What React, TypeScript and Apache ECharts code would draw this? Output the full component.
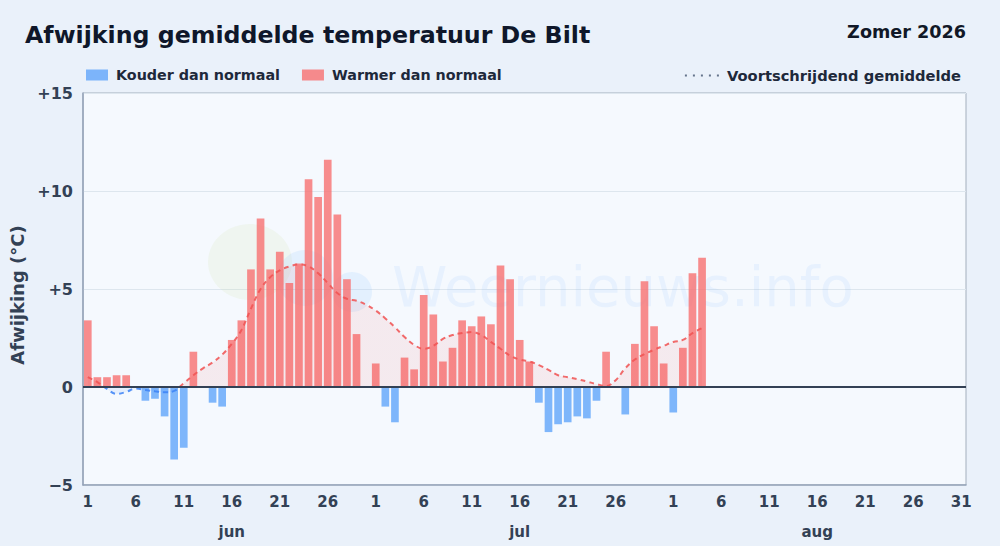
import React, { useEffect, useRef } from "react";
import * as echarts from "echarts";

// ---- data ----
const MONTH_NAMES = ["jun", "jul", "aug"];
const MONTH_NUMS = ["06", "07", "08"];
const MONTH_LENGTHS = [30, 31, 31];
const YEAR = "2026";
const TICK_DAYS = [1, 6, 11, 16, 21, 26];
const MONTH_LABEL_DAY = 16;
const Y_MIN = -5;
const Y_MAX = 15;
const Y_STEP = 5;

// daily deviation (°C), from 1 jun
const DAILY = [
  3.4, 0.5, 0.5, 0.6, 0.6, 0, -0.7, -0.6, -1.5, -3.7,
  -3.1, 1.8, 0, -0.8, -1.0, 2.4, 3.4, 6.0, 8.6, 6.0,
  6.9, 5.3, 6.3, 10.6, 9.7, 11.6, 8.8, 5.5, 2.7, 0,
  1.2, -1.0, -1.8, 1.5, 0.9, 4.7, 3.7, 1.3, 2.0, 3.4,
  3.1, 3.6, 3.2, 6.2, 5.5, 2.4, 1.3, -0.8, -2.3, -1.9,
  -1.8, -1.5, -1.6, -0.7, 1.8, 0, -1.4, 2.2, 5.4, 3.1,
  1.2, -1.3, 2.0, 5.8, 6.6,
];

// running mean (°C)
const ROLLING = [
  0.5, 0.25, -0.1, -0.35, -0.25, -0.08, -0.15, -0.22, -0.27, -0.2,
  0.2, 0.6, 0.95, 1.25, 1.65, 2.2, 2.9, 4.0, 5.0, 5.6,
  5.95, 6.15, 6.25, 6.15, 5.8, 5.3, 4.8, 4.5, 4.4, 4.2,
  3.9, 3.5, 3.05, 2.55, 2.15, 1.95, 2.1, 2.45, 2.65, 2.75,
  2.8, 2.65, 2.3, 1.95, 1.6, 1.4, 1.3, 1.12, 0.87, 0.6,
  0.5, 0.4, 0.28, 0.15, 0.05, 0.35, 0.95, 1.4, 1.68, 1.9,
  2.1, 2.3, 2.4, 2.75, 3.0,
];

const NAME_COLD = "Kouder dan normaal";
const NAME_WARM = "Warmer dan normaal";
const NAME_AVG = "Voortschrijdend gemiddelde";
const TITLE = "Afwijking gemiddelde temperatuur De Bilt";
const SUBTITLE = "Zomer 2026";
const Y_NAME = "Afwijking (°C)";
const WATERMARK = "Weernieuws.info";

// ---- derived ----
const CATEGORIES: string[] = [];
MONTH_NUMS.forEach((m, mi) => {
  for (let d = 1; d <= MONTH_LENGTHS[mi]; d++) {
    CATEGORIES.push(`${YEAR}-${m}-${String(d).padStart(2, "0")}`);
  }
});
const pad = (arr: (number | null)[]) =>
  CATEGORIES.map((_, i) => (i < arr.length ? arr[i] : null));
const WARM = pad(DAILY.map((v) => (v > 0 ? v : null)));
const COLD = pad(DAILY.map((v) => (v < 0 ? v : null)));
const AVG = pad(ROLLING);

const dayOf = (v: string) => parseInt(v.slice(8), 10);
const FONT = "DejaVu Sans";
const TEXT = "#334155";

// layout
const W = 1000;
const H = 546;
const GRID = { left: 83, right: 34, top: 93, bottom: 61 };
const PLOT_TOP = GRID.top;
const PLOT_BOTTOM = H - GRID.bottom;
const ZERO_FRAC = (Y_MAX - 0) / (Y_MAX - Y_MIN);

const splitGradient = (above: string, below: string) =>
  new echarts.graphic.LinearGradient(
    0,
    PLOT_TOP,
    0,
    PLOT_BOTTOM,
    [
      { offset: 0, color: above },
      { offset: ZERO_FRAC, color: above },
      { offset: ZERO_FRAC, color: below },
      { offset: 1, color: below },
    ],
    true
  );

export default function App() {
  const ref = useRef<HTMLDivElement>(null);
  useEffect(() => {
    if (!ref.current) return;
    const chart = echarts.init(ref.current, undefined, { renderer: "svg" });
    const option: any = {
      animation: false,
      backgroundColor: "#eaf1fa",
      textStyle: { fontFamily: FONT },
      title: [
        {
          text: TITLE,
          left: 25,
          top: 23,
          padding: 0,
          textStyle: { fontFamily: FONT, fontSize: 23.7, fontWeight: "bold", color: "#0f172a" },
        },
        {
          text: SUBTITLE,
          right: 34,
          top: 23,
          padding: 0,
          textStyle: { fontFamily: FONT, fontSize: 17.6, fontWeight: "bold", color: "#111827" },
        },
      ],
      legend: [
        {
          data: [NAME_COLD, NAME_WARM],
          left: 86,
          top: 68,
          padding: 0,
          itemWidth: 22,
          itemHeight: 11,
          itemGap: 22,
          icon: "rect",
          textStyle: {
            fontFamily: FONT,
            fontSize: 14.3,
            fontWeight: "bold",
            color: "#1e293b",
            padding: [0, 0, 0, 3],
          },
        },
        {
          data: [
            {
              name: NAME_AVG,
              icon: "path://M0,0h2v2h-2z M8,0h2v2h-2z M16,0h2v2h-2z M24,0h2v2h-2z M32,0h2v2h-2z",
              itemStyle: { color: "#64748b" },
            },
          ],
          right: 39,
          top: 68,
          padding: 0,
          itemWidth: 34,
          itemHeight: 2,
          textStyle: {
            fontFamily: FONT,
            fontSize: 14.7,
            fontWeight: "bold",
            color: "#1e293b",
            padding: [0, 0, 0, 3],
          },
        },
      ],
      grid: {
        show: true,
        ...GRID,
        backgroundColor: "#f5f9fe",
        borderColor: "#a3afbd",
        borderWidth: 1,
      },
      graphic: [
        {
          type: "ellipse",
          z: 1,
          silent: true,
          shape: { cx: 250, cy: 262, rx: 42, ry: 38 },
          style: { fill: "rgba(200,225,150,0.13)" },
        },
        {
          type: "circle",
          z: 1,
          silent: true,
          shape: { cx: 305, cy: 278, r: 28 },
          style: { fill: "rgba(147,197,253,0.18)" },
        },
        {
          type: "circle",
          z: 1,
          silent: true,
          shape: { cx: 352, cy: 292, r: 20 },
          style: { fill: "rgba(147,197,253,0.18)" },
        },
        {
          type: "text",
          z: 1,
          silent: true,
          left: 392,
          top: 258,
          style: {
            text: WATERMARK,
            font: `56px '${FONT}'`,
            fill: "rgba(96,165,250,0.09)",
          },
        },
      ],
      xAxis: [
        {
          type: "category",
          data: CATEGORIES,
          boundaryGap: true,
          axisLine: { show: true, onZero: false, lineStyle: { color: "#94a3b8", width: 1.5 } },
          axisTick: { show: false },
          splitLine: { show: false },
          axisLabel: {
            interval: (i: number, v: string) =>
              TICK_DAYS.includes(dayOf(v)) || i === CATEGORIES.length - 1,
            formatter: (v: string) => String(dayOf(v)),
            hideOverlap: false,
            margin: 9,
            fontFamily: FONT,
            fontSize: 15,
            fontWeight: "bold",
            color: TEXT,
          },
        },
        {
          type: "category",
          data: CATEGORIES,
          position: "bottom",
          offset: 30,
          boundaryGap: true,
          axisLine: { show: false },
          axisTick: { show: false },
          splitLine: { show: false },
          axisLabel: {
            interval: (_i: number, v: string) => dayOf(v) === MONTH_LABEL_DAY,
            formatter: (v: string) => MONTH_NAMES[MONTH_NUMS.indexOf(v.slice(5, 7))],
            hideOverlap: false,
            margin: 9,
            fontFamily: FONT,
            fontSize: 15,
            fontWeight: "bold",
            color: TEXT,
          },
        },
      ],
      yAxis: {
        type: "value",
        min: Y_MIN,
        max: Y_MAX,
        interval: Y_STEP,
        name: Y_NAME,
        nameLocation: "middle",
        nameGap: 50,
        nameTextStyle: {
          fontFamily: FONT,
          fontSize: 18,
          fontWeight: "bold",
          color: TEXT,
          padding: [0, 12, 0, 0],
        },
        axisLine: { show: true, lineStyle: { color: "#94a3b8", width: 1.5 } },
        axisTick: { show: false },
        splitLine: { show: true, lineStyle: { color: "#dde6ee", width: 1 } },
        axisLabel: {
          margin: 10,
          fontFamily: FONT,
          fontSize: 16,
          fontWeight: "bold",
          color: TEXT,
          formatter: (v: number) => (v > 0 ? `+${v}` : v < 0 ? `\u2212${Math.abs(v)}` : "0"),
        },
      },
      series: [
        {
          name: NAME_COLD,
          type: "bar",
          data: COLD,
          barWidth: "80%",
          barGap: "-100%",
          itemStyle: { color: "#60a5fa", opacity: 0.8 },
          z: 2,
        },
        {
          name: NAME_WARM,
          type: "bar",
          data: WARM,
          barWidth: "80%",
          barGap: "-100%",
          itemStyle: { color: "#f87171", opacity: 0.8 },
          z: 2,
          markLine: {
            silent: true,
            symbol: "none",
            label: { show: false },
            lineStyle: { color: "#334155", width: 2, type: "solid" },
            data: [{ yAxis: 0 }],
            z: 5,
          },
        },
        {
          name: NAME_AVG,
          type: "line",
          data: AVG,
          smooth: 0.4,
          showSymbol: false,
          symbol: "none",
          connectNulls: false,
          itemStyle: { color: "#64748b" },
          lineStyle: {
            width: 2,
            type: [5, 4],
            opacity: 0.85,
            color: splitGradient("#f05252", "#3b82f6"),
          },
          areaStyle: {
            color: splitGradient("rgba(239,68,68,0.12)", "rgba(59,130,246,0.12)"),
          },
          z: 3,
        },
      ],
    };
    chart.setOption(option);
    return () => chart.dispose();
  }, []);
  return (
    <div
      ref={ref}
      style={{ position: "fixed", left: 0, top: 0, width: W, height: H }}
    />
  );
}
